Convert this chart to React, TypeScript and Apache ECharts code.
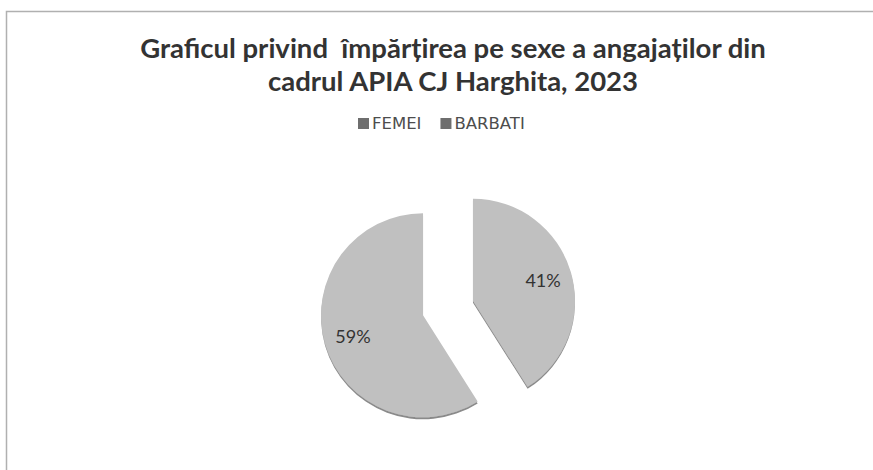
import React, { useEffect, useRef } from "react";
import * as echarts from "echarts";

const categories = ["FEMEI", "BARBATI"];
const values = [41, 59];
const titleLines = [
  "Graficul privind  împărțirea pe sexe a angajaților din",
  "cadrul APIA CJ Harghita, 2023",
];

export default function App() {
  const ref = useRef<HTMLDivElement>(null);
  useEffect(() => {
    if (!ref.current) return;
    const chart = echarts.init(ref.current, undefined, { renderer: "svg" });
    const data = categories.map((name, i) => ({ name, value: values[i], selected: true }));
    const cx = 448;
    const cy = 308;
    chart.setOption({
      animation: false,
      backgroundColor: "#ffffff",
      title: {
        text: titleLines.join("\n"),
        left: 448,
        top: 26,
        textAlign: "center",
        textStyle: {
          fontFamily: "Lato",
          fontWeight: "bold",
          fontSize: 27.5,
          lineHeight: 33,
          color: "#333333",
        },
      },
      legend: {
        left: 353,
        top: 110,
        icon: "rect",
        itemWidth: 11,
        itemHeight: 11,
        itemGap: 19,
        selectedMode: false,
        data: categories.map((name) => ({ name, itemStyle: { color: "#6e6e6e" } })),
        textStyle: { fontFamily: "DejaVu Sans", fontSize: 16.5, color: "#4d4d4d", padding: [0, 0, 0, -2] },
      },
      graphic: [
        {
          type: "polyline",
          silent: true,
          shape: { points: [[6.5, 470], [6.5, 11.5], [873, 11.5]] },
          style: { stroke: "#b0b0b0", lineWidth: 1.5, fill: null },
        },
      ],
      series: [
        {
          type: "pie",
          center: [cx, cy],
          radius: 102,
          startAngle: 90,
          clockwise: true,
          selectedMode: "multiple",
          selectedOffset: 26,
          silent: true,
          label: { show: false },
          labelLine: { show: false },
          emphasis: { disabled: true },
          itemStyle: {
            color: "#c0c0c0",
            shadowColor: "rgba(60,60,60,0.6)",
            shadowBlur: 0,
            shadowOffsetY: 2,
          },
          data,
        },
        {
          type: "pie",
          center: [cx, cy],
          radius: 140,
          startAngle: 90,
          clockwise: true,
          selectedMode: "multiple",
          selectedOffset: 26,
          silent: true,
          itemStyle: { color: "rgba(0,0,0,0)" },
          emphasis: { disabled: true },
          label: {
            show: true,
            position: "inside",
            formatter: (p: any) => Math.round(p.percent) + "%",
            fontFamily: "Lato",
            fontSize: 18,
            color: "#333333",
          },
          labelLine: { show: false },
          data,
        },
      ],
    });
    return () => chart.dispose();
  }, []);
  return (
    <div
      ref={ref}
      style={{ position: "fixed", left: 0, top: 0, width: 873, height: 470 }}
    />
  );
}
